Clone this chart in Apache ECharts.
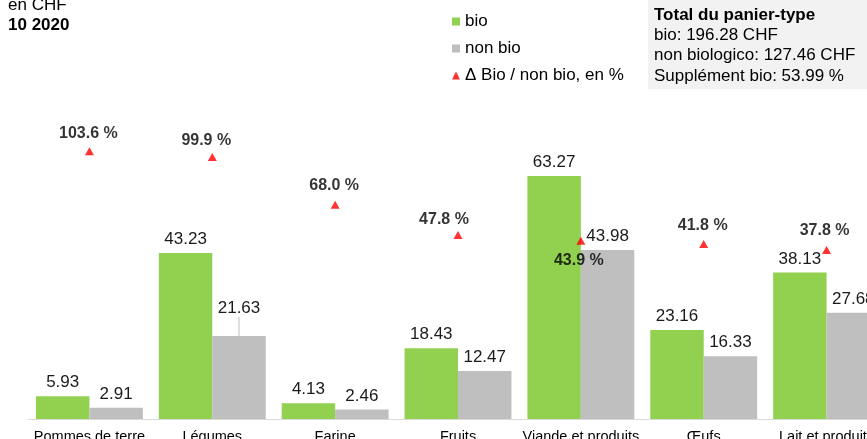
<!DOCTYPE html>
<html>
<head>
<meta charset="utf-8">
<script src="https://cdn.jsdelivr.net/npm/echarts@6/dist/echarts.min.js"></script>
<style>
  html, body { margin: 0; padding: 0; background: #fff; }
  #chart { width: 867px; height: 439px; }
</style>
</head>
<body>
<div id="chart"></div>
<script>
const categories = ['Pommes de terre', 'Légumes', 'Farine', 'Fruits', 'Viande et produits', 'Œufs', 'Lait et produits'];
const bioValues = [5.93, 43.23, 4.13, 18.43, 63.27, 23.16, 38.13];
const nonBioValues = [2.91, 21.63, 2.46, 12.47, 43.98, 16.33, 27.68];
const deltaPct = [103.6, 99.9, 68.0, 47.8, 43.9, 41.8, 37.8];
const totalLines = ['bio: 196.28 CHF', 'non biologico: 127.46 CHF', 'Supplément bio: 53.99 %'];

// where each percent label sits relative to its triangle
const pctLabelOffsets = [[-1, -18], [-6, -16], [-1, -19], [-14, -15], [-2, 20], [-1, -18], [-2, -19]];

const FONT = 'Liberation Sans, Arial, sans-serif';
const chart = echarts.init(document.getElementById('chart'));

chart.setOption({
  animation: false,
  textStyle: { fontFamily: FONT },
  grid: { left: 28, top: 111.8, width: 860, height: 307.2, outerBoundsMode: 'none', containLabel: false },
  legend: {
    orient: 'vertical',
    left: 447,
    top: 8,
    itemWidth: 8,
    itemHeight: 8,
    itemGap: 10,
    textStyle: { fontSize: 17, color: '#000', fontFamily: FONT },
    data: [
      { name: 'bio', icon: 'rect' },
      { name: 'non bio', icon: 'rect' },
      { name: 'Δ Bio / non bio, en %', icon: 'triangle' }
    ]
  },
  xAxis: {
    type: 'category',
    data: categories,
    axisLine: { lineStyle: { color: '#d9d9d9', width: 1 } },
    axisTick: { show: false },
    axisLabel: { color: '#000', fontSize: 14.5, margin: 10, interval: 0 }
  },
  yAxis: [
    { type: 'value', min: 0, max: 80, show: false },
    { type: 'value', min: -75, max: 130, show: false }
  ],
  series: [
    {
      name: 'bio',
      type: 'bar',
      data: bioValues,
      barGap: '0%',
      barCategoryGap: '13%',
      itemStyle: { color: '#92d050' },
      label: { show: true, position: 'top', distance: 5, fontSize: 17, color: '#1a1a1a' }
    },
    {
      name: 'non bio',
      type: 'bar',
      data: nonBioValues.map(function (v, i) {
        return i === 1
          ? { value: v, labelLine: { show: true, lineStyle: { color: '#bfbfbf', width: 1 } } }
          : v;
      }),
      itemStyle: { color: '#bfbfbf' },
      label: { show: true, position: 'top', distance: 5, fontSize: 17, color: '#1a1a1a' },
      labelLine: { show: false },
      labelLayout: function (p) {
        if (p.dataIndex === 1) return { dy: -14 };
        return {};
      }
    },
    {
      name: 'Δ Bio / non bio, en %',
      type: 'scatter',
      yAxisIndex: 1,
      symbol: 'triangle',
      symbolSize: [9, 8],
      itemStyle: { color: '#ff0000' },
      z: 5,
      data: deltaPct.map(function (v, i) {
        return {
          value: v,
          label: { offset: pctLabelOffsets[i] }
        };
      }),
      label: {
        show: true,
        position: 'inside',
        fontSize: 16,
        fontWeight: 'bold',
        color: '#000',
        formatter: function (p) { return p.value.toFixed(1) + ' %'; }
      }
    }
  ],
  graphic: [
    { type: 'text', left: 8, top: -3, style: { text: 'en CHF', font: '17px ' + FONT, fill: '#000' } },
    { type: 'text', left: 8, top: 17, style: { text: '10 2020', font: 'bold 17px ' + FONT, fill: '#000' } },
    { type: 'rect', shape: { x: 648, y: 0, width: 219, height: 89 }, style: { fill: '#f2f2f2' }, z: -1 },
    { type: 'text', x: 654, y: 7, style: { text: 'Total du panier-type', font: 'bold 17px ' + FONT, fill: '#000' } },
    { type: 'text', x: 654, y: 27, style: { text: totalLines[0], font: '17px ' + FONT, fill: '#000' } },
    { type: 'text', x: 654, y: 47, style: { text: totalLines[1], font: '17px ' + FONT, fill: '#000' } },
    { type: 'text', x: 654, y: 68, style: { text: totalLines[2], font: '17px ' + FONT, fill: '#000' } }
  ]
});
</script>
</body>
</html>
